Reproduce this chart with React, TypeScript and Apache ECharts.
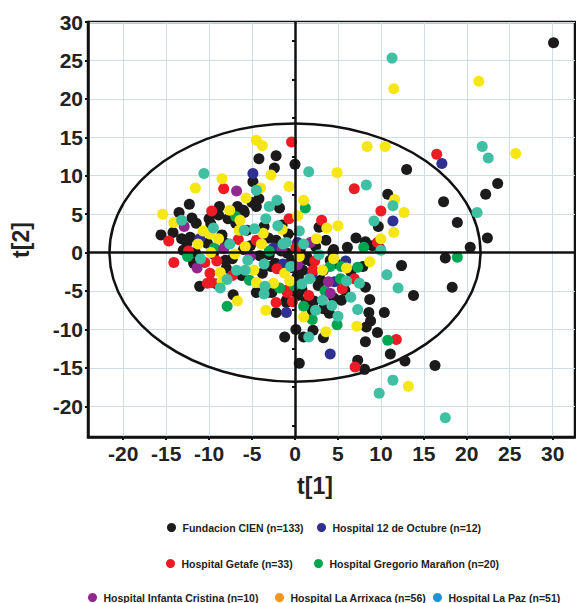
import React, { useEffect, useRef } from "react";
import * as echarts from "echarts";

// ---- data (t[1], t[2]) ----
const fundacionCien = [
  [30.1, 27.3], [0.0, 11.5], [13.0, 10.8], [23.6, 9.0], [22.2, 7.6], [17.3, 6.6], [10.8, 7.6], [9.7, 3.4],
  [2.8, 3.3], [18.9, 3.9], [22.4, 1.9], [20.4, 0.7], [7.1, 1.9], [6.1, 0.7], [8.2, 1.4], [9.9, 0.5],
  [4.5, 0.4], [17.5, -0.7], [12.4, -1.7], [18.3, -4.5], [13.8, -5.6], [8.7, -6.1], [8.2, -4.5], [8.6, -7.8],
  [10.4, -7.8], [8.8, -8.9], [8.3, -9.7], [9.6, -10.4], [8.2, -11.6], [11.1, -13.2], [12.8, -14.1], [16.3, -14.7],
  [7.3, -14.0], [8.1, -15.2], [0.5, -14.4], [-1.2, -11.0], [1.0, -11.0], [3.3, -11.1], [2.1, -10.1], [0.1, -10.0],
  [3.3, -7.3], [4.0, -7.9], [5.4, -6.2], [2.2, -6.3], [1.3, -6.3], [0.3, -5.6], [-1.0, -6.2], [4.5, -5.9],
  [2.7, -4.3], [3.0, -3.6], [4.7, -1.4], [7.9, -1.8], [1.4, -0.6], [4.4, 0.1], [0.4, -3.1], [9.0, 0.9],
  [-0.9, -0.1], [4.1, -1.0], [1.2, -0.9], [-0.4, -1.0], [3.3, -2.3], [0.9, -2.3], [0.2, -3.2], [-0.7, -5.0],
  [0.8, -4.8], [-13.5, 5.2], [-12.0, 4.5], [-15.6, 2.3], [-14.2, 2.6], [-13.2, 1.8], [-12.6, 1.2], [-12.2, 2.0],
  [-10.2, 1.2], [-11.5, 3.8], [-9.8, 3.7], [-8.9, 4.9], [-8.5, 2.3], [-8.1, 1.2], [-6.0, 0.4], [-6.9, 3.8],
  [-5.9, 5.2], [-7.8, 4.4], [-5.2, 0.9], [-3.1, 1.9], [-2.2, 1.6], [-4.1, -0.4], [-3.0, -0.3], [-2.3, -1.4],
  [-3.8, -2.7], [-1.2, -2.6], [-3.2, -5.2], [-4.5, -5.2], [-7.3, -0.8], [-6.2, -3.0], [-8.0, -2.0], [-11.8, -1.4],
  [-9.1, -4.1], [-11.1, -4.4], [-8.1, -1.0], [-7.2, -5.5], [-2.7, -5.2], [-1.0, -6.5], [-2.2, -7.8], [-2.2, 12.6],
  [-4.2, 12.2], [-2.4, 11.0], [-4.9, 9.2], [-5.0, 6.5], [-4.2, 7.0], [-1.8, 5.8], [-12.3, 6.3], [-8.8, 6.0],
  [-6.7, 6.0], [-6.0, 5.5], [-4.5, 6.0], [-10.0, 4.4], [-5.6, 2.9], [-11.6, 0.0], [-1.6, 0.2], [0.6, 0.3],
  [-0.2, -2.0], [1.9, -1.2], [-2.8, -1.8], [2.4, 0.8], [-9.5, -0.2], [-13.0, 0.3], [6.5, -2.5], [5.8, -4.9],
  [-1.5, 3.6], [-0.8, 2.4], [3.6, 1.6], [-3.6, 3.4], [2.0, -7.5]
];
const hospital12Octubre = [
  [17.1, 11.6], [11.4, 4.1], [0.3, 1.3], [4.1, -13.2], [-1.0, -7.8], [5.9, -1.1], [-1.4, -1.5], [4.6, -3.8],
  [-11.1, 1.8], [-4.9, 10.3], [-2.5, 0.6], [2.0, -2.8]
];
const hospitalGetafe = [
  [-0.4, 14.4], [16.5, 12.8], [6.9, 8.3], [10.0, 5.4], [3.1, 4.2], [-0.7, 4.4], [9.6, 1.3], [0.1, 0.6],
  [11.8, -11.3], [7.0, -14.9], [-0.3, -6.4], [5.5, -4.7], [6.9, -3.4], [2.1, -2.3], [2.3, -1.1], [-0.9, -5.2],
  [-14.7, 1.5], [-9.7, 5.4], [-4.5, 1.6], [-2.1, -2.1], [-1.0, -4.9], [-7.3, -3.0], [-9.1, -1.1], [-10.5, -1.3],
  [-9.9, -2.7], [-10.2, -4.0], [-9.7, -3.9], [-14.1, -1.3], [-12.4, 0.2], [-8.3, 8.3], [-2.2, -6.5], [-6.6, 1.7],
  [1.6, -5.6]
];
const hospitalGregorioMaranon = [
  [1.2, 5.8], [8.0, 0.7], [18.9, -0.6], [10.8, -11.4], [2.0, -8.7], [4.9, -9.4], [5.3, -3.4], [7.3, -1.9],
  [4.1, -1.8], [5.4, -1.8], [-0.1, -4.3], [-9.4, 0.6], [-6.9, 4.7], [-5.3, -3.6], [-1.8, -4.6], [-7.9, -7.0],
  [-3.0, 0.2], [1.0, -7.0], [-12.5, -0.5], [3.5, -5.0]
];
const hospitalInfantaCristina = [
  [1.8, 1.3], [4.1, -5.3], [3.9, -3.8], [0.3, -1.6], [-12.9, 3.4], [-8.3, 0.5], [-5.2, -0.5], [-11.4, -2.0],
  [-6.8, 8.0], [-1.5, 0.5]
];
const hospitalLaArrixaca = [
  [11.5, 21.3], [21.4, 22.3], [8.4, 13.8], [10.5, 13.8], [25.7, 12.9], [4.9, 10.4], [-0.7, 8.6], [11.6, 6.9],
  [12.7, 5.2], [1.0, 6.8], [11.5, 2.6], [3.7, 3.2], [5.0, 3.5], [0.3, 4.8], [10.0, 1.8], [8.7, -1.2],
  [3.2, -2.3], [4.5, -0.8], [-1.2, -2.7], [-0.6, -3.7], [7.2, -9.6], [3.6, -10.3], [1.0, -8.4], [13.2, -17.4],
  [-15.4, 5.0], [-14.1, 3.9], [-10.7, 2.8], [-9.9, 2.4], [-11.3, 1.1], [-8.9, 1.8], [-7.0, -0.2], [-6.5, 2.9],
  [-3.7, 2.5], [-3.9, 1.1], [-4.8, -2.3], [-4.5, -3.9], [-8.7, -2.6], [-8.5, -3.7], [-6.7, -6.3], [-3.4, -7.5],
  [-4.5, 14.6], [-3.8, 13.9], [-2.8, 10.1], [-8.5, 9.6], [-11.6, 8.4], [-4.0, 8.4], [-5.7, 7.1], [-7.6, 5.5],
  [-6.4, 4.2], [-1.5, 3.0], [2.5, 1.8], [-2.5, -4.0], [6.0, -2.0], [-9.8, 0.0], [0.5, -0.5], [-5.8, 0.8]
];
const hospitalLaPaz = [
  [11.3, 25.3], [21.8, 13.8], [22.5, 12.3], [1.6, 10.5], [8.3, 8.8], [11.4, 6.1], [21.2, 5.2], [9.2, 4.1],
  [-1.0, 1.3], [10.7, -2.9], [12.0, -4.6], [7.3, -7.4], [11.4, -16.6], [9.8, -18.3], [17.5, -21.5], [1.6, -11.0],
  [2.4, -7.5], [5.0, -8.3], [4.3, -6.9], [6.0, -3.7], [7.5, -4.0], [0.8, -4.1], [10.0, 0.3], [1.0, 1.1],
  [1.7, -3.4], [-10.6, 10.3], [-4.5, 8.1], [-2.1, 6.8], [-3.0, 6.0], [-13.2, 4.2], [-7.6, 1.1], [-5.9, 2.9],
  [-4.7, 3.1], [-3.4, 4.4], [-1.4, 1.1], [-3.6, -1.5], [-5.8, -2.3], [-3.5, -4.4], [-6.8, -2.3], [-7.9, -3.5],
  [-8.7, -4.6], [-3.6, -5.4], [-9.5, 3.2], [-0.5, -1.8], [2.8, -0.3], [-2.0, 3.5], [6.5, -5.8], [-11.0, -0.8],
  [3.2, -6.2], [-5.5, -1.0], [0.5, 2.8]
];

const xTicks = [-20, -15, -10, -5, 0, 5, 10, 15, 20, 25, 30];
const yTicks = [-20, -15, -10, -5, 0, 5, 10, 15, 20, 25, 30];
const yMinorTicks = [-22.5, -17.5, -12.5, -7.5, -2.5, 2.5, 7.5, 12.5, 17.5, 22.5, 27.5];
const ellipseA = 21.6;
const ellipseB = 16.8;

const groups = [
  { name: "Fundacion CIEN (n=133)", data: fundacionCien, color: "#1c1a1b", legendColor: "#1c1a1b", left: 167, top: 522 },
  { name: "Hospital 12 de Octubre (n=12)", data: hospital12Octubre, color: "#2e3192", legendColor: "#2e3192", left: 317, top: 522 },
  { name: "Hospital Getafe (n=33)", data: hospitalGetafe, color: "#ed1c24", legendColor: "#ed1c24", left: 166, top: 558 },
  { name: "Hospital Gregorio Marañon (n=20)", data: hospitalGregorioMaranon, color: "#00a651", legendColor: "#00a651", left: 314, top: 558 },
  { name: "Hospital Infanta Cristina (n=10)", data: hospitalInfantaCristina, color: "#92278f", legendColor: "#92278f", left: 88, top: 592 },
  { name: "Hospital La Arrixaca (n=56)", data: hospitalLaArrixaca, color: "#f5e614", legendColor: "#f7941d", left: 275, top: 592 },
  { name: "Hospital La Paz (n=51)", data: hospitalLaPaz, color: "#3fbfa3", legendColor: "#1b95d6", left: 433, top: 592 },
];

const FONT = '"Liberation Sans", Arial, sans-serif';

export default function App() {
  const ref = useRef<HTMLDivElement>(null);
  useEffect(() => {
    const chart = echarts.init(ref.current!, null, { renderer: "svg" });
    const labelStyle = { fontSize: 21, fontWeight: "bold", color: "#222", fontFamily: FONT };
    const axisLine = { show: true, onZero: false, lineStyle: { color: "#111", width: 2.5 } };
    const splitLine = { show: true, lineStyle: { color: "#cfdde6", width: 1 } };
    chart.setOption({
      animation: false,
      backgroundColor: "#fff",
      grid: { left: 88, right: 1, top: 22, bottom: 166, show: true, borderColor: "#111", borderWidth: 2.5 },
      xAxis: {
        type: "value",
        min: -24.1,
        max: 32.6,
        axisLine,
        splitLine,
        axisTick: { show: true, customValues: xTicks, length: 3, lineStyle: { color: "#111", width: 2 } },
        axisLabel: { ...labelStyle, customValues: xTicks, margin: 6 },
      },
      yAxis: [
        {
          type: "value",
          min: -24,
          max: 30,
          axisLine,
          splitLine,
          axisTick: { show: true, customValues: yTicks, length: 3, lineStyle: { color: "#111", width: 2 } },
          axisLabel: { ...labelStyle, customValues: yTicks, margin: 5 },
        },
        {
          type: "value",
          position: "left",
          min: -24,
          max: 30,
          axisLine: { show: false },
          splitLine: { show: false },
          axisTick: { show: true, customValues: yMinorTicks, length: 3, lineStyle: { color: "#111", width: 2 } },
          axisLabel: { show: false },
        },
      ],
      legend: groups.map((g) => ({
        data: [{ name: g.name, itemStyle: { color: g.legendColor } }],
        left: g.left,
        top: g.top,
        padding: 0,
        icon: "circle",
        itemWidth: 12,
        itemHeight: 9,
        selectedMode: false,
        textStyle: { fontSize: 10.5, fontWeight: "bold", color: "#222", fontFamily: FONT },
      })),
      graphic: [
        { type: "text", x: 315, y: 486, style: { text: "t[1]", font: `bold 23px ${FONT}`, fill: "#222", align: "center", verticalAlign: "middle" } },
        { type: "text", x: 21, y: 240, rotation: Math.PI / 2, style: { text: "t[2]", font: `bold 23px ${FONT}`, fill: "#222", align: "center", verticalAlign: "middle" } },
      ],
      series: [
        {
          type: "custom",
          name: "ellipse",
          z: 1,
          silent: true,
          data: [[0, 0]],
          renderItem: (_p: any, api: any) => {
            const c = api.coord([0, 0]);
            const r = api.coord([ellipseA, 0]);
            const t = api.coord([0, ellipseB]);
            return {
              type: "ellipse",
              shape: { cx: c[0], cy: c[1], rx: r[0] - c[0], ry: c[1] - t[1] },
              style: { fill: "none", stroke: "#111", lineWidth: 2.5 },
            };
          },
        },
        {
          type: "scatter",
          name: "zero",
          z: 1,
          silent: true,
          data: [],
          markLine: {
            silent: true,
            symbol: ["none", "none"],
            label: { show: false },
            lineStyle: { color: "#111", width: 2.5, type: "solid" },
            data: [{ xAxis: 0 }, { yAxis: 0 }],
          },
        },
        ...groups.map((g) => ({
          type: "scatter",
          name: g.name,
          data: g.data,
          symbolSize: 11,
          itemStyle: { color: g.color, opacity: 1 },
          z: 2,
        })),
      ],
    });
    return () => chart.dispose();
  }, []);
  return <div ref={ref} style={{ position: "fixed", left: 0, top: 0, width: 576, height: 603 }} />;
}
